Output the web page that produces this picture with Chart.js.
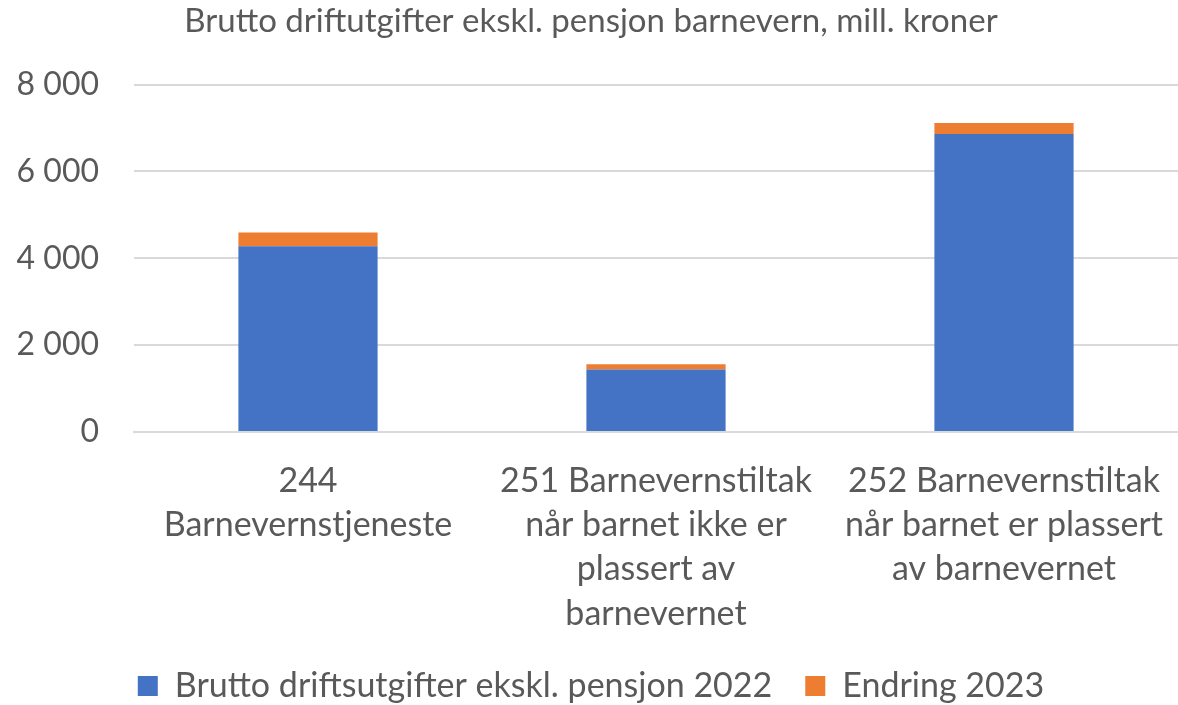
<!DOCTYPE html>
<html>
<head>
<meta charset="utf-8">
<script src="https://cdn.jsdelivr.net/npm/chart.js@4/dist/chart.umd.min.js"></script>
<style>
  html, body { margin: 0; padding: 0; background: #fff; }
  #wrap { width: 1178px; height: 705px; }
</style>
</head>
<body>
<div id="wrap"><canvas id="chartContainer"></canvas></div>
<script>
// data (mill. kroner)
let categories = [
  ['244', 'Barnevernstjeneste'],
  ['251 Barnevernstiltak', 'når barnet ikke er', 'plassert av', 'barnevernet'],
  ['252 Barnevernstiltak', 'når barnet er plassert', 'av barnevernet']
];
let utgifter2022 = [4275, 1438, 6865];
let endring2023 = [322, 123, 252];
let yTicks = [0, 2000, 4000, 6000, 8000];

let grey = '#595959';
let font = 'Lato, "Open Sans", sans-serif';

function formatNumber(v) {
  // space as thousands separator, like "8 000"
  return String(v).replace(/\B(?=(\d{3})+(?!\d))/g, ' ');
}

let chartContainer = document.getElementById('chartContainer');
let chart = new Chart(chartContainer, {
  type: 'bar',
  data: {
    labels: categories,
    datasets: [
      {
        label: 'Brutto driftsutgifter ekskl. pensjon 2022',
        data: utgifter2022,
        backgroundColor: '#4472C4'
      },
      {
        label: 'Endring 2023',
        data: endring2023,
        backgroundColor: '#ED7D31'
      }
    ]
  },
  options: {
    responsive: true,
    maintainAspectRatio: false,
    animation: false,
    layout: { padding: { left: 0, right: -4, top: 0, bottom: -8 } },
    datasets: {
      bar: { categoryPercentage: 1, barPercentage: 0.4 }
    },
    plugins: {
      title: {
        display: true,
        text: 'Brutto driftutgifter ekskl. pensjon barnevern, mill. kroner',
        color: grey,
        font: { family: font, size: 33, weight: 'normal', lineHeight: 1.2 },
        padding: { top: 2, bottom: 43 }
      },
      legend: {
        position: 'bottom',
        labels: {
          color: grey,
          boxWidth: 20,
          boxHeight: 20,
          padding: 33,
          font: { family: font, size: 34 }
        }
      },
      tooltip: { enabled: false }
    },
    scales: {
      x: {
        stacked: true,
        grid: { display: false, drawTicks: false },
        border: { color: '#d9d9d9', width: 2 },
        afterFit: function (axis) {
          axis.height = 705 + 8 - 432 - (34 + 33 + 10);
          // no extra room for the wide labels at the ends
          axis.paddingLeft = 0;
          axis.paddingRight = 0;
        },
        ticks: {
          color: grey,
          padding: 27,
          maxRotation: 0,
          autoSkip: false,
          font: { family: font, size: 34, lineHeight: 1.3 }
        }
      },
      y: {
        stacked: true,
        min: 0,
        max: 8000,
        afterBuildTicks: function (axis) {
          axis.ticks = yTicks.map(v => ({ value: v }));
        },
        afterFit: function (axis) {
          axis.width = 134;
          axis.paddingTop = 0;
          axis.paddingBottom = 0;
        },
        grid: { color: '#d9d9d9', lineWidth: 2, drawTicks: false },
        border: { display: false },
        ticks: {
          color: grey,
          padding: 35,
          font: { family: font, size: 32 },
          callback: function (value) { return formatNumber(value); }
        }
      }
    }
  }
});
</script>
</body>
</html>
